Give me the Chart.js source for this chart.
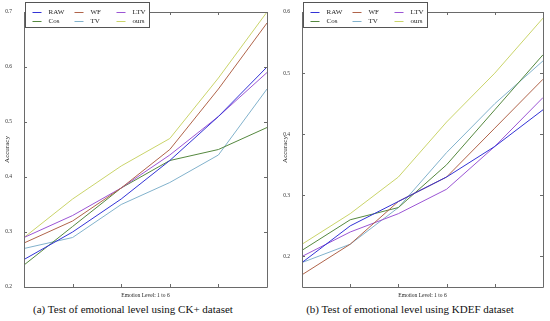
<!DOCTYPE html>
<html>
<head>
<meta charset="utf-8">
<script src="https://cdn.jsdelivr.net/npm/chart.js@4"></script>
<style>
body { margin: 0; background: #fff; width: 550px; height: 321px; position: relative; overflow: hidden; font-family: "Liberation Serif", serif; }
canvas { position: absolute; top: 0; }
#ck { left: 0; }
#kd { left: 275px; }
.cap { position: absolute; top: 302px; font-size: 11px; line-height: 14px; color: #111; text-align: center; white-space: nowrap; }
#capA { left: 0; width: 266px; }
#capB { left: 275px; width: 270px; }
</style>
</head>
<body>
<canvas id="ck" width="275" height="300"></canvas>
<canvas id="kd" width="275" height="300"></canvas>
<div class="cap" id="capA">(a) Test of emotional level using CK+ dataset</div>
<div class="cap" id="capB">(b) Test of emotional level using KDEF dataset</div>
<script>
const levels = ['1', '2', '3', '4', '5', '6']
const seriesNames = ['RAW', 'WF', 'LTV', 'Cos', 'TV', 'ours']
const seriesColors = ['#3333d6', '#b0644a', '#9b55d4', '#55883f', '#82b2cc', '#cad46a']

// CK+ dataset
const ckRaw = [0.25, 0.30, 0.36, 0.43, 0.51, 0.60]
const ckWf = [0.28, 0.32, 0.38, 0.45, 0.56, 0.68]
const ckLtv = [0.29, 0.33, 0.38, 0.44, 0.51, 0.59]
const ckCos = [0.24, 0.31, 0.38, 0.43, 0.45, 0.49]
const ckTv = [0.27, 0.29, 0.35, 0.39, 0.44, 0.56]
const ckOurs = [0.29, 0.36, 0.42, 0.47, 0.58, 0.70]
const ckTicks = [0.2, 0.3, 0.4, 0.5, 0.6, 0.7]

// KDEF dataset
const kdRaw = [0.19, 0.25, 0.29, 0.33, 0.38, 0.44]
const kdWf = [0.17, 0.22, 0.29, 0.33, 0.41, 0.49]
const kdLtv = [0.20, 0.24, 0.27, 0.31, 0.38, 0.46]
const kdCos = [0.21, 0.26, 0.28, 0.35, 0.44, 0.53]
const kdTv = [0.19, 0.22, 0.28, 0.37, 0.45, 0.52]
const kdOurs = [0.22, 0.27, 0.33, 0.42, 0.50, 0.59]
const kdTicks = [0.2, 0.3, 0.4, 0.5, 0.6]

const serif = '"Liberation Serif", serif'

// box round the plot with inward ticks on all four sides
const frameTicks = {
    id: 'frameTicks',
    afterDatasetsDraw(chart) {
        const { ctx, chartArea: a, scales: { x, y } } = chart
        ctx.save()
        ctx.strokeStyle = '#6a6a6a'
        ctx.lineWidth = 1
        ctx.beginPath()
        ctx.rect(Math.round(a.left) + 0.5, Math.round(a.top) + 0.5, Math.round(a.width), Math.round(a.height))
        y.ticks.forEach((t) => {
            const py = Math.round(y.getPixelForValue(t.value)) + 0.5
            ctx.moveTo(a.left, py); ctx.lineTo(a.left + 3, py)
            ctx.moveTo(a.right, py); ctx.lineTo(a.right - 3, py)
        })
        x.ticks.forEach((t, i) => {
            const px = Math.round(x.getPixelForTick(i)) + 0.5
            ctx.moveTo(px, a.bottom); ctx.lineTo(px, a.bottom - 3)
            ctx.moveTo(px, a.top); ctx.lineTo(px, a.top + 3)
        })
        ctx.stroke()
        ctx.restore()
    }
}

// matlab style legend: boxed, 3 columns, sitting over the top edge
const boxLegend = {
    id: 'boxLegend',
    afterDraw(chart) {
        const { ctx, chartArea: a } = chart
        const bx = Math.round(a.left) + 1.5
        const by = 2.5
        ctx.save()
        ctx.fillStyle = '#fff'
        ctx.fillRect(bx, by, 124, 25)
        ctx.strokeStyle = '#555'
        ctx.lineWidth = 1
        ctx.strokeRect(bx, by, 124, 25)
        ctx.font = '7px ' + serif
        ctx.textBaseline = 'middle'
        chart.data.datasets.forEach((ds, i) => {
            const col = i % 3
            const row = Math.floor(i / 3)
            const lx = bx + 7 + col * 42
            const ly = by + 9.5 + row * 9
            ctx.strokeStyle = ds.borderColor
            ctx.beginPath()
            ctx.moveTo(lx, Math.round(ly) + 0.5)
            ctx.lineTo(lx + 9, Math.round(ly) + 0.5)
            ctx.stroke()
            ctx.fillStyle = '#222'
            ctx.fillText(ds.label, lx + 16, ly)
        })
        ctx.restore()
    }
}

function makeChart (id, series, yMin, yMax, yTicks, yWidth, titlePad, rightPad) {
    return new Chart(document.getElementById(id), {
        type: 'line',
        data: {
            labels: levels,
            datasets: series.map((values, i) => ({
                label: seriesNames[i],
                data: values,
                borderColor: seriesColors[i],
                borderWidth: 1,
                pointRadius: 0,
                tension: 0
            }))
        },
        options: {
            responsive: false,
            animation: false,
            layout: { padding: { top: 12, right: rightPad, bottom: 0, left: 0 } },
            plugins: { legend: { display: false }, tooltip: { enabled: false } },
            scales: {
                x: {
                    offset: false,
                    grid: { display: false },
                    border: { display: false },
                    ticks: { display: false },
                    title: {
                        display: true,
                        text: 'Emotion Level: 1 to 6',
                        color: '#222',
                        font: { family: serif, size: 5.5 },
                        padding: { top: 0, bottom: 1 }
                    },
                    afterFit: (scale) => { scale.height = 13 }
                },
                y: {
                    min: yMin,
                    max: yMax,
                    grid: { display: false },
                    border: { display: false },
                    afterBuildTicks: (scale) => { scale.ticks = yTicks.map((v) => ({ value: v })) },
                    ticks: {
                        color: '#333',
                        padding: 4,
                        font: { family: serif, size: 5.5 },
                        callback: (v) => v.toFixed(1)
                    },
                    title: {
                        display: true,
                        text: 'Accuracy',
                        color: '#222',
                        font: { family: serif, size: 7 },
                        padding: { top: titlePad, bottom: 0 }
                    },
                    afterFit: (scale) => { scale.width = yWidth }
                }
            }
        },
        plugins: [frameTicks, boxLegend]
    })
}

makeChart('ck', [ckRaw, ckWf, ckLtv, ckCos, ckTv, ckOurs], 0.2, 0.7, ckTicks, 24, 3, 8)
makeChart('kd', [kdRaw, kdWf, kdLtv, kdCos, kdTv, kdOurs], 0.15, 0.6, kdTicks, 27, 6, 7)
</script>
</body>
</html>
